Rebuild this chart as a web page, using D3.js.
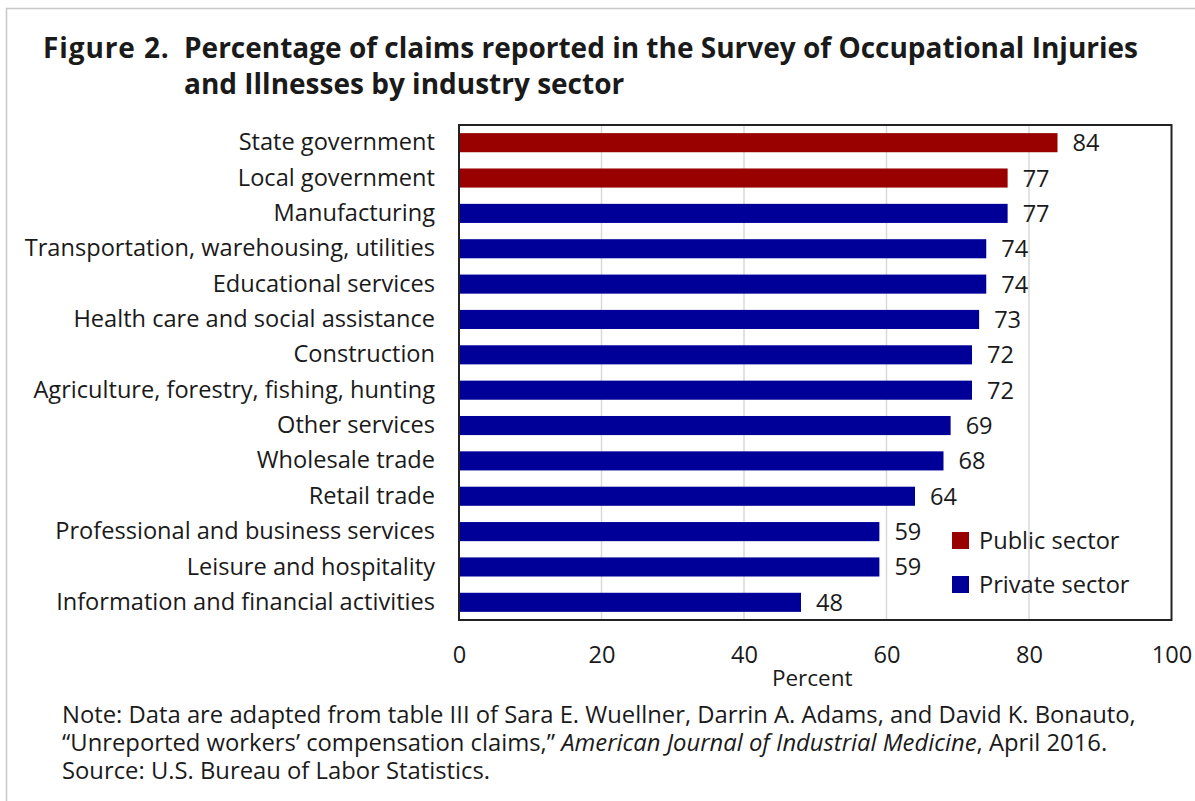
<!DOCTYPE html>
<html>
<head>
<meta charset="utf-8">
<script src="https://cdn.jsdelivr.net/npm/d3@7"></script>
<style>
  html, body { margin: 0; padding: 0; background: #fff; }
  svg { display: block; }
  text { font-family: "Open Sans", Lato, sans-serif; fill: #1a1a1a; }
</style>
</head>
<body>
<svg id="chart" width="1195" height="801"></svg>
<script>
// Industry sectors, top to bottom
const categories = [
  "State government",
  "Local government",
  "Manufacturing",
  "Transportation, warehousing, utilities",
  "Educational services",
  "Health care and social assistance",
  "Construction",
  "Agriculture, forestry, fishing, hunting",
  "Other services",
  "Wholesale trade",
  "Retail trade",
  "Professional and business services",
  "Leisure and hospitality",
  "Information and financial activities"
];
// Percent of claims reported in SOII
const values = [84, 77, 77, 74, 74, 73, 72, 72, 69, 68, 64, 59, 59, 48];
// Sector of each row
const sectors = ["Public", "Public", "Private", "Private", "Private", "Private", "Private",
                 "Private", "Private", "Private", "Private", "Private", "Private", "Private"];
const legendLabels = ["Public sector", "Private sector"];
const xTicks = [0, 20, 40, 60, 80, 100];

const colors = { Public: "#990000", Private: "#000099" };
const FONT = "'Open Sans', Lato, sans-serif";
const FS = 23.6;

const svg = d3.select("#chart");
const W = 1195, H = 801;

// outer frame
svg.append("rect")
  .attr("x", 6.5).attr("y", 8.5)
  .attr("width", W + 10).attr("height", H + 10)
  .attr("fill", "none").attr("stroke", "#c8c8c8").attr("stroke-width", 1.5);

// title: figure number, then the hanging-indented caption
const title = svg.append("g").attr("font-weight", "bold").attr("font-size", 28);
title.append("text").attr("x", 43).attr("y", 58)
  .attr("letter-spacing", 0.9).text("Figure 2.");
const cap = title.append("text");
cap.append("tspan").attr("x", 184).attr("y", 58)
  .text("Percentage of claims reported in the Survey of Occupational Injuries");
cap.append("tspan").attr("x", 184).attr("y", 94)
  .text("and Illnesses by industry sector");

const plot = { left: 459, right: 1171.5, top: 125, bottom: 620 };

const x = d3.scaleLinear().domain([0, 100]).range([plot.left, plot.right]);
const y = d3.scaleBand().domain(categories).range([plot.top, plot.bottom])
  .paddingInner(0.46).paddingOuter(0.23);

// gridlines
svg.append("g")
  .selectAll("line")
  .data(xTicks.filter(d => d > 0 && d < 100))
  .join("line")
  .attr("x1", d => x(d)).attr("x2", d => x(d))
  .attr("y1", plot.top).attr("y2", plot.bottom)
  .attr("stroke", "#d9d9d9").attr("stroke-width", 1.5);

// bars
svg.append("g")
  .selectAll("rect")
  .data(categories)
  .join("rect")
  .attr("x", x(0))
  .attr("y", d => y(d))
  .attr("width", (d, i) => x(values[i]) - x(0))
  .attr("height", y.bandwidth())
  .attr("fill", (d, i) => colors[sectors[i]]);

// value labels
svg.append("g")
  .selectAll("text")
  .data(categories)
  .join("text")
  .attr("x", (d, i) => x(values[i]) + 15)
  .attr("y", d => y(d) + y.bandwidth() / 2)
  .attr("dy", "0.36em")
  .attr("font-size", FS)
  .text((d, i) => values[i]);

// plot frame
svg.append("rect")
  .attr("x", plot.left).attr("y", plot.top)
  .attr("width", plot.right - plot.left).attr("height", plot.bottom - plot.top)
  .attr("fill", "none").attr("stroke", "#222").attr("stroke-width", 2);

// category axis
const yAxis = svg.append("g")
  .attr("transform", `translate(${plot.left},0)`)
  .call(d3.axisLeft(y).tickSize(0).tickPadding(24));
yAxis.select(".domain").remove();
yAxis.selectAll("text")
  .attr("font-size", FS)
  .style("font-family", FONT)
  .attr("fill", "#1a1a1a");

// value axis
const xAxis = svg.append("g")
  .attr("transform", `translate(0,${plot.bottom})`)
  .call(d3.axisBottom(x).tickValues(xTicks).tickSize(0).tickPadding(26));
xAxis.select(".domain").remove();
xAxis.selectAll("text")
  .attr("font-size", FS)
  .style("font-family", FONT)
  .attr("fill", "#1a1a1a");

svg.append("text")
  .attr("x", (plot.left + plot.right) / 2 - 3).attr("y", 686)
  .attr("text-anchor", "middle").attr("font-size", 22.5)
  .text("Percent");

// legend
const legend = svg.append("g");
legendLabels.forEach((lab, i) => {
  const key = i === 0 ? "Public" : "Private";
  legend.append("rect")
    .attr("x", 952).attr("y", 532 + i * 44)
    .attr("width", 17).attr("height", 17)
    .attr("fill", colors[key]);
  legend.append("text")
    .attr("x", 979).attr("y", 549 + i * 44)
    .attr("font-size", FS)
    .text(lab);
});

// note
const note = svg.append("text").attr("font-size", 23.8);
note.append("tspan").attr("x", 62).attr("y", 723)
  .text("Note: Data are adapted from table III of Sara E. Wuellner, Darrin A. Adams, and David K. Bonauto,");
const l2 = note.append("tspan").attr("x", 62).attr("y", 751);
l2.text("\u201CUnreported workers\u2019 compensation claims,\u201D ");
note.append("tspan").attr("font-style", "italic").text("American Journal of Industrial Medicine");
note.append("tspan").text(", April 2016.");
note.append("tspan").attr("x", 62).attr("y", 779)
  .text("Source: U.S. Bureau of Labor Statistics.");
</script>
</body>
</html>
